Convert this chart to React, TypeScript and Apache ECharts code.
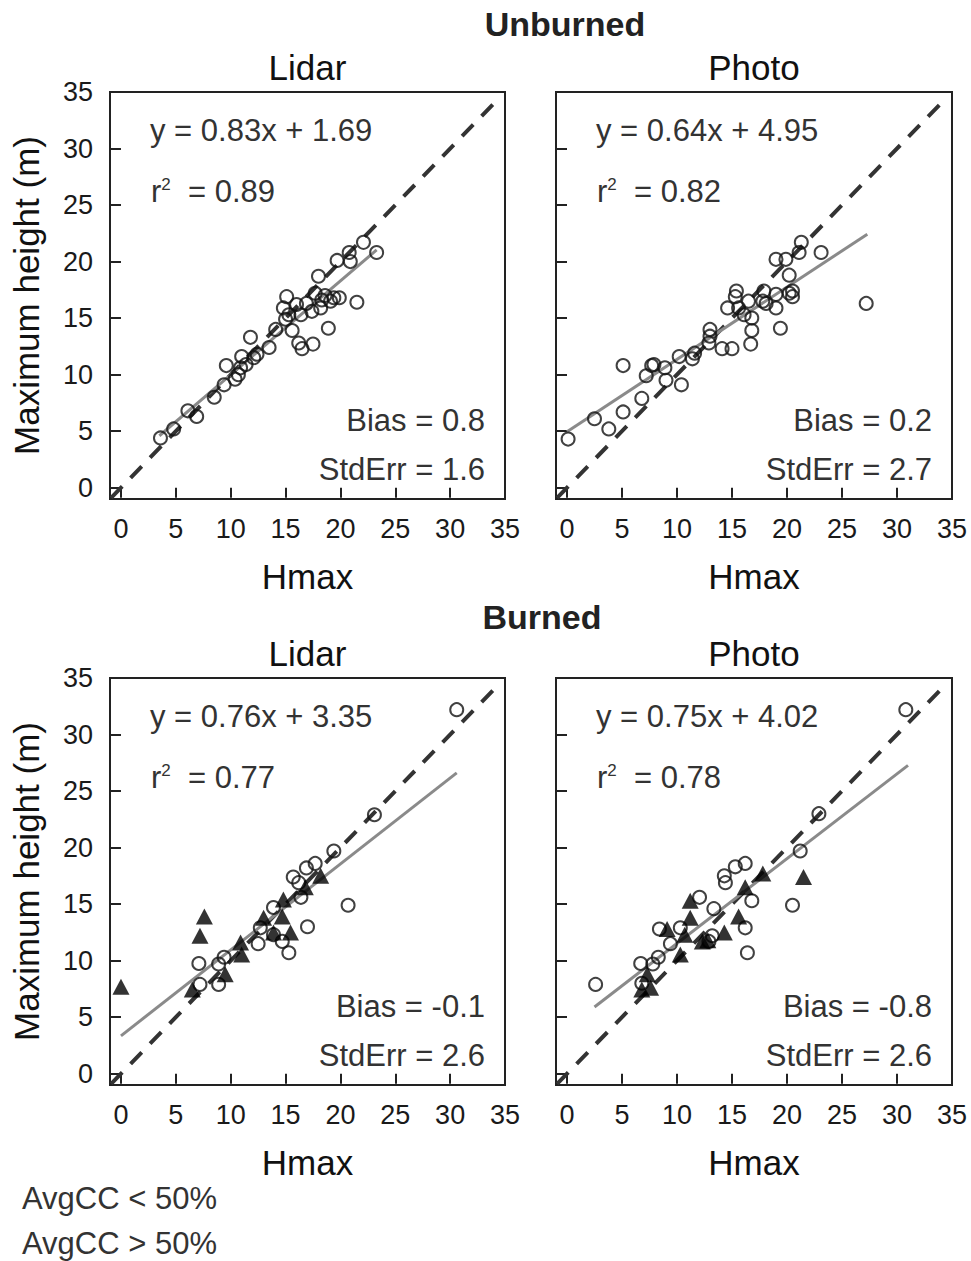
import React, { useEffect, useRef } from "react";
import * as echarts from "echarts";

const FONT = '"Liberation Sans", Arial, Helvetica, sans-serif';

const tickValues = [0, 5, 10, 15, 20, 25, 30, 35];

// Unburned – Lidar (open circles)
const unburnedLidar: number[][] = [
  [3.6, 4.4], [4.8, 5.2], [6.1, 6.8], [6.9, 6.3], [8.5, 8.0], [9.4, 9.1], [9.6, 10.8],
  [10.4, 9.6], [10.7, 10.0], [10.9, 10.6], [11.0, 11.6], [11.4, 10.9], [11.8, 13.3],
  [12.1, 11.5], [12.4, 11.8], [13.5, 12.4], [14.1, 14.0], [15.0, 14.9], [15.1, 16.9],
  [14.8, 15.9], [15.3, 15.3], [15.6, 13.9], [16.0, 16.2], [16.4, 15.3], [16.2, 12.8],
  [16.5, 12.3], [16.9, 16.3], [17.4, 15.6], [17.5, 12.7], [17.7, 17.2], [18.0, 18.7],
  [18.2, 15.9], [18.3, 16.6], [18.6, 17.0], [18.9, 14.1], [19.1, 16.5], [19.4, 16.8],
  [19.9, 16.8], [19.7, 20.1], [20.8, 20.8], [20.9, 20.0], [21.5, 16.4], [22.1, 21.7],
  [23.3, 20.8],
];

// Unburned – Photo (open circles)
const unburnedPhoto: number[][] = [
  [0.1, 4.3], [2.5, 6.1], [3.8, 5.2], [5.1, 6.7], [5.1, 10.8], [6.8, 7.9], [7.2, 9.9],
  [7.7, 10.8], [7.9, 10.9], [8.9, 10.6], [9.0, 9.5], [10.4, 9.1], [10.2, 11.6],
  [11.4, 11.4], [11.6, 11.9], [12.9, 12.8], [13.0, 14.0], [13.0, 13.4], [14.1, 12.3],
  [15.0, 12.3], [14.6, 15.9], [15.4, 17.4], [15.3, 16.9], [15.6, 15.9], [16.1, 15.3],
  [16.5, 16.5], [16.8, 15.0], [16.8, 13.9], [16.7, 12.7], [17.9, 17.4], [18.1, 16.3],
  [17.8, 16.5], [19.0, 15.9], [19.0, 17.1], [19.4, 14.1], [19.0, 20.2], [19.9, 20.2],
  [20.2, 18.8], [20.2, 17.2], [20.5, 16.9], [20.5, 17.4], [21.1, 20.8], [21.3, 21.7],
  [23.1, 20.8], [27.2, 16.3],
];

// Burned – Lidar
const burnedLidarLow: number[][] = [
  [30.6, 32.2], [23.1, 22.9], [19.4, 19.7], [16.9, 18.2], [17.7, 18.6], [15.7, 17.4],
  [16.2, 16.9], [16.4, 15.6], [20.7, 14.9], [17.0, 13.0], [13.9, 14.7], [12.7, 12.9],
  [12.5, 11.5], [14.7, 11.7], [15.3, 10.7], [9.4, 10.3], [8.9, 9.7], [7.1, 9.75],
  [7.2, 7.9], [8.9, 7.9], [13.9, 12.3],
];
const burnedLidarHigh: number[][] = [
  [0.0, 7.7], [7.6, 13.9], [7.2, 12.2], [6.5, 7.45], [9.5, 8.8], [11.0, 10.55],
  [10.9, 11.6], [13.0, 13.8], [13.9, 12.5], [14.8, 15.4], [14.7, 13.9], [15.45, 12.5],
  [16.8, 16.5], [18.2, 17.5],
];

// Burned – Photo
const burnedPhotoLow: number[][] = [
  [30.8, 32.2], [22.9, 23.0], [21.2, 19.7], [20.5, 14.9], [16.2, 18.6], [15.3, 18.3],
  [14.3, 17.5], [14.4, 16.9], [16.8, 15.3], [13.35, 14.6], [12.05, 15.6], [16.2, 12.9],
  [16.4, 10.7], [13.2, 12.2], [12.9, 11.7], [10.3, 12.9], [8.4, 12.8], [9.4, 11.5],
  [8.3, 10.3], [7.8, 9.7], [6.7, 9.75], [2.6, 7.9], [6.8, 8.0],
];
const burnedPhotoHigh: number[][] = [
  [6.8, 7.45], [7.6, 7.6], [7.3, 8.8], [10.3, 10.55], [10.7, 12.3], [11.2, 13.8],
  [11.2, 15.3], [9.1, 12.8], [12.3, 11.7], [12.8, 11.8], [14.3, 12.5], [15.6, 13.9],
  [16.2, 16.5], [17.8, 17.7], [21.5, 17.4],
];

// Regression fits: slope, intercept, x-range of fitted line
const fitSlopes = [0.83, 0.64, 0.76, 0.75];
const fitIntercepts = [1.69, 4.95, 3.35, 4.02];
const fitXRanges = [[3.5, 23.3], [0, 27.3], [0, 30.6], [2.5, 31.0]];
const r2Values = ["0.89", "0.82", "0.77", "0.78"];
const biasValues = ["0.8", "0.2", "-0.1", "-0.8"];
const stdErrValues = ["1.6", "2.7", "2.6", "2.6"];
const oneToOne = [[-0.9, -0.9], [34.3, 34.3]];

const panelTitles = ["Lidar", "Photo", "Lidar", "Photo"];
const groupTitles = ["Unburned", "Burned"];
const legendLabels = ["AvgCC < 50%", "AvgCC > 50%"];

const grids = [
  { left: 110, top: 92, width: 395, height: 407 },
  { left: 556, top: 92, width: 396, height: 407 },
  { left: 110, top: 678, width: 395, height: 407 },
  { left: 556, top: 678, width: 396, height: 407 },
];

export default function App() {
  const ref = useRef<HTMLDivElement>(null);
  useEffect(() => {
    if (!ref.current) return;
    const chart = echarts.init(ref.current, null, { renderer: "svg" });

    const lowSets = [unburnedLidar, unburnedPhoto, burnedLidarLow, burnedPhotoLow];
    const highSets = [null, null, burnedLidarHigh, burnedPhotoHigh];

    const xAxis: any[] = [];
    const yAxis: any[] = [];
    const series: any[] = [];
    const graphic: any[] = [];

    grids.forEach((g, i) => {
      const isLeft = i % 2 === 0;
      xAxis.push({
        gridIndex: i,
        type: "value",
        min: -1,
        max: 35,
        axisLine: { show: false },
        axisTick: {
          show: true,
          length: 10,
          customValues: tickValues,
          lineStyle: { color: "#222", width: 2 },
        },
        axisLabel: {
          customValues: tickValues,
          fontSize: 27,
          color: "#1a1a1a",
          margin: 16,
          fontFamily: FONT,
        },
        splitLine: { show: false },
        name: "Hmax",
        nameLocation: "middle",
        nameGap: 60,
        nameTextStyle: { fontSize: 35, color: "#111", fontFamily: FONT },
      });
      yAxis.push({
        gridIndex: i,
        type: "value",
        min: -1,
        max: 35,
        axisLine: { show: false },
        axisTick: {
          show: true,
          length: 10,
          customValues: tickValues,
          lineStyle: { color: "#222", width: 2 },
        },
        axisLabel: {
          show: isLeft,
          customValues: tickValues,
          fontSize: 27,
          color: "#1a1a1a",
          margin: 17,
          fontFamily: FONT,
        },
        splitLine: { show: false },
        name: isLeft ? "Maximum height (m)" : "",
        nameLocation: "middle",
        nameGap: 66,
        nameTextStyle: { fontSize: 35, color: "#111", fontFamily: FONT },
      });

      const [x1, x2] = fitXRanges[i];
      series.push({
        type: "line",
        xAxisIndex: i,
        yAxisIndex: i,
        data: oneToOne,
        showSymbol: false,
        symbol: "none",
        lineStyle: { color: "#333", width: 4, type: [16, 12] },
        silent: true,
        z: 2,
      });
      series.push({
        type: "line",
        xAxisIndex: i,
        yAxisIndex: i,
        data: [
          [x1, fitSlopes[i] * x1 + fitIntercepts[i]],
          [x2, fitSlopes[i] * x2 + fitIntercepts[i]],
        ],
        showSymbol: false,
        symbol: "none",
        lineStyle: { color: "#8a8a8a", width: 3 },
        silent: true,
        z: 2,
      });
      series.push({
        name: legendLabels[0],
        type: "scatter",
        xAxisIndex: i,
        yAxisIndex: i,
        data: lowSets[i],
        symbol: "circle",
        symbolSize: 13,
        itemStyle: { color: "rgba(0,0,0,0)", borderColor: "#111", borderWidth: 2 },
        z: 3,
      });
      if (highSets[i]) {
        series.push({
          name: legendLabels[1],
          type: "scatter",
          xAxisIndex: i,
          yAxisIndex: i,
          data: highSets[i],
          symbol: "triangle",
          symbolSize: [17, 16],
          itemStyle: { color: "#000" },
          z: 4,
        });
      }

      // panel title
      graphic.push({
        type: "text",
        x: g.left + g.width / 2,
        y: g.top - 25,
        style: {
          text: panelTitles[i],
          fontSize: 35,
          fontFamily: FONT,
          fill: "#111",
          textAlign: "center",
          textVerticalAlign: "middle",
        },
      });
      // equation
      graphic.push({
        type: "text",
        x: g.left + 40,
        y: g.top + 38,
        style: {
          text: `y = ${fitSlopes[i].toFixed(2)}x + ${fitIntercepts[i].toFixed(2)}`,
          fontSize: 31,
          fontFamily: FONT,
          fill: "#333",
          textAlign: "left",
          textVerticalAlign: "middle",
        },
      });
      graphic.push({
        type: "text",
        x: g.left + 41,
        y: g.top + 99,
        style: {
          text: `{a|r}{s|2}{a|  = ${r2Values[i]}}`,
          textAlign: "left",
          textVerticalAlign: "middle",
          rich: {
            a: { fontSize: 31, fontFamily: FONT, fill: "#333", color: "#333" },
            s: {
              fontSize: 17,
              fontFamily: FONT,
              fill: "#333",
              color: "#333",
              verticalAlign: "top",
            },
          },
        },
      });
      graphic.push({
        type: "text",
        x: g.left + g.width - 20,
        y: g.top + 328,
        style: {
          text: `Bias = ${biasValues[i]}`,
          fontSize: 31,
          fontFamily: FONT,
          fill: "#333",
          textAlign: "right",
          textVerticalAlign: "middle",
        },
      });
      graphic.push({
        type: "text",
        x: g.left + g.width - 20,
        y: g.top + 377,
        style: {
          text: `StdErr = ${stdErrValues[i]}`,
          fontSize: 31,
          fontFamily: FONT,
          fill: "#333",
          textAlign: "right",
          textVerticalAlign: "middle",
        },
      });
    });

    graphic.push({
      type: "text",
      x: 565,
      y: 24,
      style: {
        text: groupTitles[0],
        fontSize: 34,
        fontWeight: "bold",
        fontFamily: FONT,
        fill: "#222",
        textAlign: "center",
        textVerticalAlign: "middle",
      },
    });
    graphic.push({
      type: "text",
      x: 542,
      y: 617,
      style: {
        text: groupTitles[1],
        fontSize: 34,
        fontWeight: "bold",
        fontFamily: FONT,
        fill: "#222",
        textAlign: "center",
        textVerticalAlign: "middle",
      },
    });
    legendLabels.forEach((lab, k) => {
      graphic.push({
        type: "text",
        x: 22,
        y: 1198 + k * 45,
        style: {
          text: lab,
          fontSize: 31,
          fontFamily: FONT,
          fill: "#333",
          textAlign: "left",
          textVerticalAlign: "middle",
        },
      });
    });

    chart.setOption({
      animation: false,
      backgroundColor: "#fff",
      grid: grids.map((g) => ({
        ...g,
        show: true,
        borderColor: "#222",
        borderWidth: 2,
        backgroundColor: "transparent",
      })),
      xAxis,
      yAxis,
      series,
      graphic,
    });
    return () => chart.dispose();
  }, []);

  return (
    <div
      ref={ref}
      style={{ position: "absolute", left: 0, top: 0, width: 971, height: 1261 }}
    />
  );
}
